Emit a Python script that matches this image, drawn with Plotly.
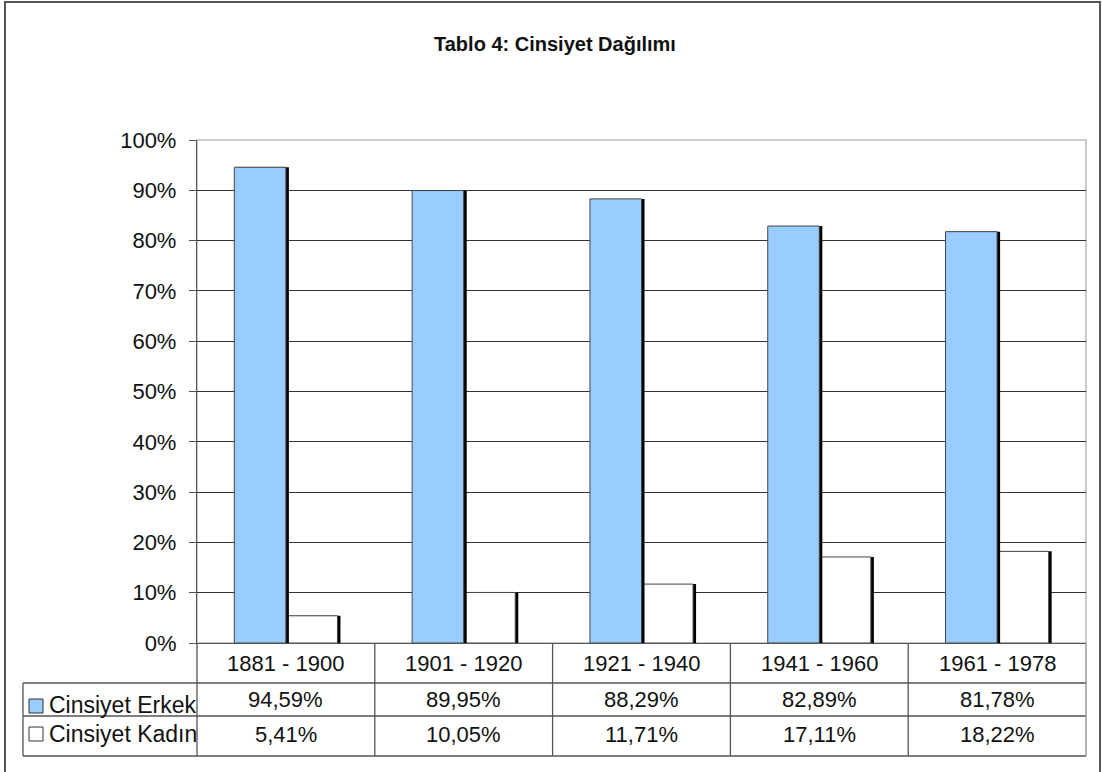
import plotly.graph_objects as go

categories = ["1881 - 1900", "1901 - 1920", "1921 - 1940", "1941 - 1960", "1961 - 1978"]
erkek = [94.59, 89.95, 88.29, 82.89, 81.78]
kadin = [5.41, 10.05, 11.71, 17.11, 18.22]
series_names = ["Cinsiyet Erkek", "Cinsiyet Kadın"]
y_ticks = [0, 10, 20, 30, 40, 50, 60, 70, 80, 90, 100]
y_tick_labels = ["0%", "10%", "20%", "30%", "40%", "50%", "60%", "70%", "80%", "90%", "100%"]
title_text = "Tablo 4: Cinsiyet Dağılımı"

BLUE = "#99CCFF"
FONT = "Liberation Sans"
W, H = 1102, 772
L, R, T, B = 197, 1102 - 1086, 140, 772 - 643
PW, PH = W - L - R, H - T - B


def px_x(px):
    return (px - L) / PW


def px_y(py):
    return (H - B - py) / PH


xs = list(range(len(categories)))
bw = 0.29
sh = 3 / (PW / len(categories))

fig = go.Figure()
# white bars (with shadow), then blue bars (with shadow)
fig.add_trace(go.Bar(x=xs, y=kadin, offset=0.0 + sh, width=bw, marker=dict(color="#000000", line=dict(width=0)),
                     showlegend=False, hoverinfo="skip"))
fig.add_trace(go.Bar(x=xs, y=kadin, offset=0.0, width=bw, name=series_names[1],
                     marker=dict(color="#FFFFFF", line=dict(color="#444444", width=1)), showlegend=False))
fig.add_trace(go.Bar(x=xs, y=erkek, offset=-bw + sh, width=bw, marker=dict(color="#000000", line=dict(width=0)),
                     showlegend=False, hoverinfo="skip"))
fig.add_trace(go.Bar(x=xs, y=erkek, offset=-bw, width=bw, name=series_names[0],
                     marker=dict(color=BLUE, line=dict(color="#444444", width=1)), showlegend=False))

shapes = []
# outer border (bottom edge lies below the visible page)
shapes.append(dict(type="rect", xref="paper", yref="paper", x0=px_x(5), x1=px_x(1100), y0=px_y(780), y1=px_y(2),
                   line=dict(color="#555555", width=2), layer="below"))
# plot area border (light)
shapes.append(dict(type="rect", xref="paper", yref="paper", x0=0, x1=1, y0=0, y1=1,
                   line=dict(color="#BBBBBB", width=1.5), layer="below"))

tbl_color = "#555555"
row_lines = [683, 716, 756]
for r in row_lines:
    shapes.append(dict(type="line", xref="paper", yref="paper", x0=px_x(23), x1=1, y0=px_y(r), y1=px_y(r),
                       line=dict(color=tbl_color, width=1.3)))
# vertical lines
shapes.append(dict(type="line", xref="paper", yref="paper", x0=px_x(23), x1=px_x(23), y0=px_y(683), y1=px_y(756),
                   line=dict(color=tbl_color, width=1.3)))
shapes.append(dict(type="line", xref="paper", yref="paper", x0=0, x1=0, y0=0, y1=px_y(756),
                   line=dict(color=tbl_color, width=1.3)))
shapes.append(dict(type="line", xref="paper", yref="paper", x0=1, x1=1, y0=0, y1=px_y(756),
                   line=dict(color="#888888", width=1.3)))
for i in range(len(categories) - 1):
    shapes.append(dict(type="line", xref="x", yref="paper", x0=i + 0.5, x1=i + 0.5, y0=0, y1=px_y(756),
                       line=dict(color=tbl_color, width=1.3)))
# legend keys
shapes.append(dict(type="rect", xref="paper", yref="paper", x0=px_x(29), x1=px_x(43), y0=px_y(713), y1=px_y(699),
                   fillcolor=BLUE, line=dict(color="#333333", width=1)))
shapes.append(dict(type="rect", xref="paper", yref="paper", x0=px_x(29), x1=px_x(43), y0=px_y(741), y1=px_y(727),
                   fillcolor="#FFFFFF", line=dict(color="#333333", width=1)))

annotations = []
TF = dict(family=FONT, size=22, color="#111111")
LF = dict(family=FONT, size=23, color="#111111")


def fmt(v):
    return f"{v:.2f}".replace(".", ",") + "%"


for i, c in enumerate(categories):
    annotations.append(dict(x=i, y=px_y(663), xref="x", yref="paper", text=c, showarrow=False, font=TF,
                            xanchor="center", yanchor="middle"))
    annotations.append(dict(x=i, y=px_y(699), xref="x", yref="paper", text=fmt(erkek[i]), showarrow=False, font=TF,
                            xanchor="center", yanchor="middle"))
    annotations.append(dict(x=i, y=px_y(734), xref="x", yref="paper", text=fmt(kadin[i]), showarrow=False, font=TF,
                            xanchor="center", yanchor="middle"))
annotations.append(dict(x=px_x(47), y=px_y(705), xref="paper", yref="paper", text=series_names[0], showarrow=False,
                        xanchor="left", yanchor="middle", font=LF))
annotations.append(dict(x=px_x(47), y=px_y(734), xref="paper", yref="paper", text=series_names[1], showarrow=False,
                        xanchor="left", yanchor="middle", font=LF))
annotations.append(dict(x=px_x(555), y=px_y(44), xref="paper", yref="paper", text="<b>" + title_text + "</b>",
                        showarrow=False, xanchor="center", yanchor="middle",
                        font=dict(family=FONT, size=20, color="#111111")))

fig.update_layout(
    width=W, height=H,
    margin=dict(l=L, r=R, t=T, b=B, pad=0),
    paper_bgcolor="#FFFFFF", plot_bgcolor="#FFFFFF",
    separators=",.",
    barmode="overlay",
    showlegend=False,
    shapes=shapes,
    annotations=annotations,
    font=dict(family=FONT, color="#111111"),
    xaxis=dict(range=[-0.5, len(categories) - 0.5], showticklabels=False, showgrid=False, zeroline=False,
               showline=True, linecolor="#555555", linewidth=1.3, ticks="", fixedrange=True),
    yaxis=dict(range=[0, 100], tickvals=y_ticks, ticktext=y_tick_labels, showgrid=True, gridcolor="#333333",
               gridwidth=1, zeroline=False, showline=True, linecolor="#555555", linewidth=1.3,
               ticks="outside", ticklen=7, tickcolor="#555555", tickfont=dict(family=FONT, size=22, color="#111111"),
               ticklabelstandoff=8, fixedrange=True),
)

fig.write_html("out.html", config={"displayModeBar": False}, post_script="document.body.style.margin='0px';")
